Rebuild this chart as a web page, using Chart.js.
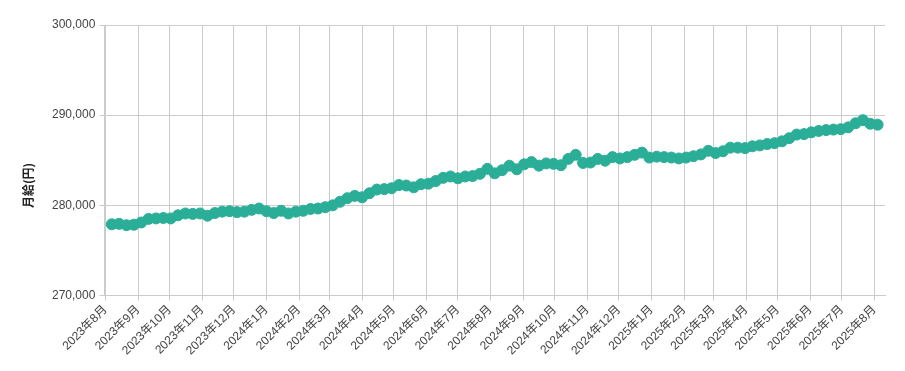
<!DOCTYPE html>
<html>
<head>
<meta charset="utf-8">
<script src="https://cdn.jsdelivr.net/npm/chart.js@4"></script>
<style>
  body { margin: 0; background: #fff; }
  #wrap { width: 905px; height: 371px; }
</style>
</head>
<body>
<div id="wrap"><canvas id="grafico" width="905" height="371"></canvas></div>
<script>
// weekly series, first week 2023-08-07
const primeraSemana = '2023-08-07';
const salarios = [
  277900, 277950, 277800, 277850, 278100, 278500, 278550, 278600, 278550, 278900,
  279100, 279050, 279100, 278850, 279150, 279300, 279350, 279250, 279300, 279500,
  279650, 279350, 279150, 279400, 279100, 279300, 279400, 279600, 279650, 279800,
  280000, 280400, 280800, 281050, 280900, 281350, 281750, 281800, 281900, 282250,
  282200, 282000, 282350, 282400, 282700, 283050, 283200, 283000, 283200, 283250,
  283500, 284050, 283550, 283900, 284400, 284000, 284550, 284800, 284400, 284650,
  284600, 284450, 285150, 285600, 284700, 284750, 285150, 284950, 285350, 285200,
  285350, 285600, 285850, 285300, 285400, 285350, 285300, 285200, 285300, 285450,
  285650, 286050, 285800, 286000, 286400, 286400, 286350, 286550, 286650, 286800,
  286900, 287100, 287450, 287850, 287900, 288100, 288250, 288350, 288400, 288450,
  288650, 289100, 289450, 289050, 288950
];
const meses = [
  '2023-08', '2023-09', '2023-10', '2023-11', '2023-12', '2024-01', '2024-02',
  '2024-03', '2024-04', '2024-05', '2024-06', '2024-07', '2024-08', '2024-09',
  '2024-10', '2024-11', '2024-12', '2025-01', '2025-02', '2025-03', '2025-04',
  '2025-05', '2025-06', '2025-07', '2025-08'
];
const yTicks = [270000, 280000, 290000, 300000];
const yTitulo = '月給(円)';

const DIA = 86400000;
const origen = Date.parse('2023-07-31T00:00:00Z');
function dia(fecha) {
  return (Date.parse(fecha + 'T00:00:00Z') - origen) / DIA;
}

let inicio = dia(primeraSemana);
let puntos = salarios.map((v, i) => ({ x: inicio + i * 7, y: v }));
let mesTicks = meses.map(m => dia(m + '-01'));
let mesLabels = meses.map(m => {
  let [a, mm] = m.split('-');
  return a + '年' + parseInt(mm) + '月';
});

const fuente = "'Liberation Sans', Arial, 'Noto Sans CJK JP', sans-serif";
const gris = '#cccccc';
const verde = '#2bae98';

// y title sits at the vertical middle of the whole canvas
const tituloY = {
  id: 'tituloY',
  afterDraw(c) {
    const g = c.ctx;
    g.save();
    g.translate(28, c.height / 2);
    g.rotate(-Math.PI / 2);
    g.textAlign = 'center';
    g.textBaseline = 'middle';
    g.fillStyle = '#222';
    g.font = "bold 12px 'Noto Sans CJK JP', sans-serif";
    g.fillText(yTitulo, 0, 0);
    g.restore();
  }
};

const ctx = document.getElementById('grafico').getContext('2d');
let chart = new Chart(ctx, {
  type: 'line',
  data: {
    datasets: [{
      label: '月給',
      data: puntos,
      borderColor: verde,
      backgroundColor: verde,
      borderWidth: 2,
      pointRadius: 5.5,
      pointBorderWidth: 1,
      pointBackgroundColor: verde,
      pointBorderColor: verde,
      tension: 0
    }]
  },
  plugins: [tituloY],
  options: {
    responsive: false,
    animation: false,
    layout: { padding: { top: 25, right: 20, left: 48, bottom: 11 } },
    plugins: {
      legend: { display: false },
      tooltip: { enabled: false }
    },
    scales: {
      x: {
        type: 'linear',
        min: inicio - 7,
        max: inicio + (salarios.length) * 7,
        afterBuildTicks: scale => {
          scale.ticks = mesTicks.map(v => ({ value: v }));
        },
        grid: { color: gris, tickLength: 5 },
        border: { color: gris },
        ticks: {
          autoSkip: false,
          maxRotation: 45,
          minRotation: 45,
          padding: 2,
          color: '#444',
          font: { family: fuente, size: 12 },
          callback: (v, i) => mesLabels[i]
        }
      },
      y: {
        min: 270000,
        max: 300000,
        afterBuildTicks: scale => {
          scale.ticks = yTicks.map(v => ({ value: v }));
        },
        grid: { color: gris, tickLength: 5 },
        border: { color: gris },
        ticks: {
          padding: 4,
          color: '#444',
          font: { family: fuente, size: 12 },
          callback: v => v.toLocaleString('en-US')
        }
      }
    }
  }
});
</script>
</body>
</html>
